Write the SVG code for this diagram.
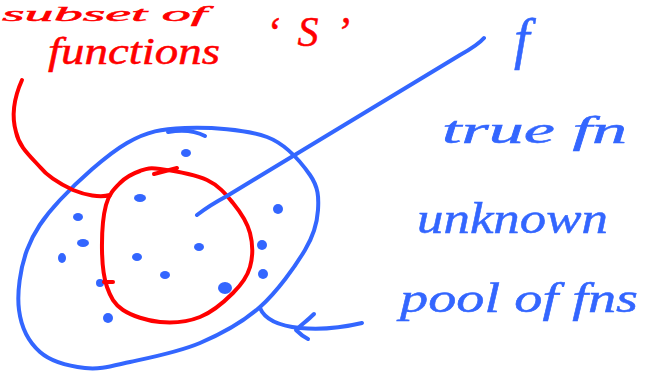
<svg xmlns="http://www.w3.org/2000/svg" width="662" height="373" viewBox="0 0 662 373">
<defs>
<style>
.bl{fill:none;stroke:#3366ff;stroke-width:4;stroke-linecap:round;stroke-linejoin:round}
.rd{fill:none;stroke:#ff0000;stroke-width:4;stroke-linecap:round;stroke-linejoin:round}
.dot{fill:#3366ff}
.tb{fill:#3366ff;stroke:#3366ff;stroke-width:0.5;font-family:"Liberation Serif","DejaVu Serif",serif;font-style:italic}
.tr{fill:#ff0000;stroke:#ff0000;stroke-width:0.5;font-family:"Liberation Serif","DejaVu Serif",serif;font-style:italic}
</style>
</defs>
<rect width="662" height="373" fill="#ffffff"/>
<g id="pool">
<path class="bl" d="M127,143 C147.8,131 161.7,129 185,128 C208.3,127 246.2,129.2 267,137 C287.8,144.8 301.5,162.8 310,175 C318.5,187.2 318.8,197.5 318,210 C317.2,222.5 314.7,233.8 305,250 C295.3,266.2 277.5,291.5 260,307 C242.5,322.5 221.7,333.8 200,343 C178.3,352.2 149.2,357.8 130,362 C110.8,366.2 100,369.7 85,368 C70,366.3 51,361.7 40,352 C29,342.3 21.2,327 19,310 C16.8,293 20.2,268.3 27,250 C33.8,231.7 43.3,217.8 60,200 C76.7,182.2 106.2,155 127,143"/>
<path class="bl" d="M168,132 Q190,128 205,136"/>
<g id="dots">
<ellipse class="dot" cx="186" cy="153" rx="5" ry="4"/>
<ellipse class="dot" cx="140" cy="198" rx="6" ry="4"/>
<ellipse class="dot" cx="278" cy="209" rx="5" ry="5"/>
<ellipse class="dot" cx="78" cy="217" rx="5" ry="4"/>
<ellipse class="dot" cx="83" cy="243" rx="6" ry="4"/>
<ellipse class="dot" cx="199" cy="247" rx="5" ry="4"/>
<ellipse class="dot" cx="262" cy="245" rx="5" ry="5"/>
<ellipse class="dot" cx="62" cy="258" rx="4" ry="5"/>
<ellipse class="dot" cx="137" cy="257" rx="5" ry="4"/>
<ellipse class="dot" cx="165" cy="275" rx="5" ry="4"/>
<ellipse class="dot" cx="263" cy="274" rx="5" ry="5"/>
<ellipse class="dot" cx="100" cy="283" rx="4" ry="4"/>
<ellipse class="dot" cx="225" cy="288" rx="7" ry="6"/>
<ellipse class="dot" cx="108" cy="318" rx="5" ry="5"/>
</g>
</g>
<g id="subset-S">
<path class="rd" d="M160,169 C171.2,170.5 194.8,174.3 207,180 C219.2,185.7 225.8,194.2 233,203 C240.2,211.8 247.2,222.3 250,233 C252.8,243.7 252.8,257 250,267 C247.2,277 241.3,284.7 233,293 C224.7,301.3 212.2,312.2 200,317 C187.8,321.8 172.8,323.2 160,322 C147.2,320.8 131.8,315.8 123,310 C114.2,304.2 110.5,297 107,287 C103.5,277 102.2,263.7 102,250 C101.8,236.3 103,216.2 106,205 C109,193.8 114.3,188.7 120,183 C125.7,177.3 133.3,173.3 140,171 C146.7,168.7 148.8,167.5 160,169"/>
<path class="rd" d="M154,174 L177,168"/>
<path class="rd" d="M104,282 L113,282"/>
</g>
<g id="label-subset">
<text class="tr" x="2" y="21" font-size="22" textLength="205" lengthAdjust="spacingAndGlyphs">subset of</text>
<text class="tr" x="48" y="64" font-size="38" textLength="172" lengthAdjust="spacingAndGlyphs">functions</text>
<text class="tr" x="266" y="46" font-size="42" textLength="84" lengthAdjust="spacing">‘S’</text>
</g>
<g id="label-f">
<text class="tb" x="514" y="58" font-size="56">f</text>
<text class="tb" x="442" y="143" font-size="38" textLength="185" lengthAdjust="spacingAndGlyphs">true fn</text>
<text class="tb" x="417" y="233" font-size="44" textLength="191" lengthAdjust="spacingAndGlyphs">unknown</text>
</g>
<g id="label-pool">
<text class="tb" x="400" y="312" font-size="42" textLength="238" lengthAdjust="spacingAndGlyphs">pool of fns</text>
</g>
<g id="connectors">
<path class="rd" d="M110,195 C100,198 85,195 73,190 C58,183 48,177 40,167 C28,154 19,146 16,132 C12,118 13,100 22,80"/>
<path class="bl" d="M197,215 Q210,205 227,196 L460,55 Q478,45 484,38"/>
<path class="bl" d="M260,308 C265,320 280,326 300,328 C320,330 345,327 362,323"/>
<path class="bl" d="M314,314 C308,320 300,326 296,330 C300,334 304,337 308,339"/>
</g>
</svg>
